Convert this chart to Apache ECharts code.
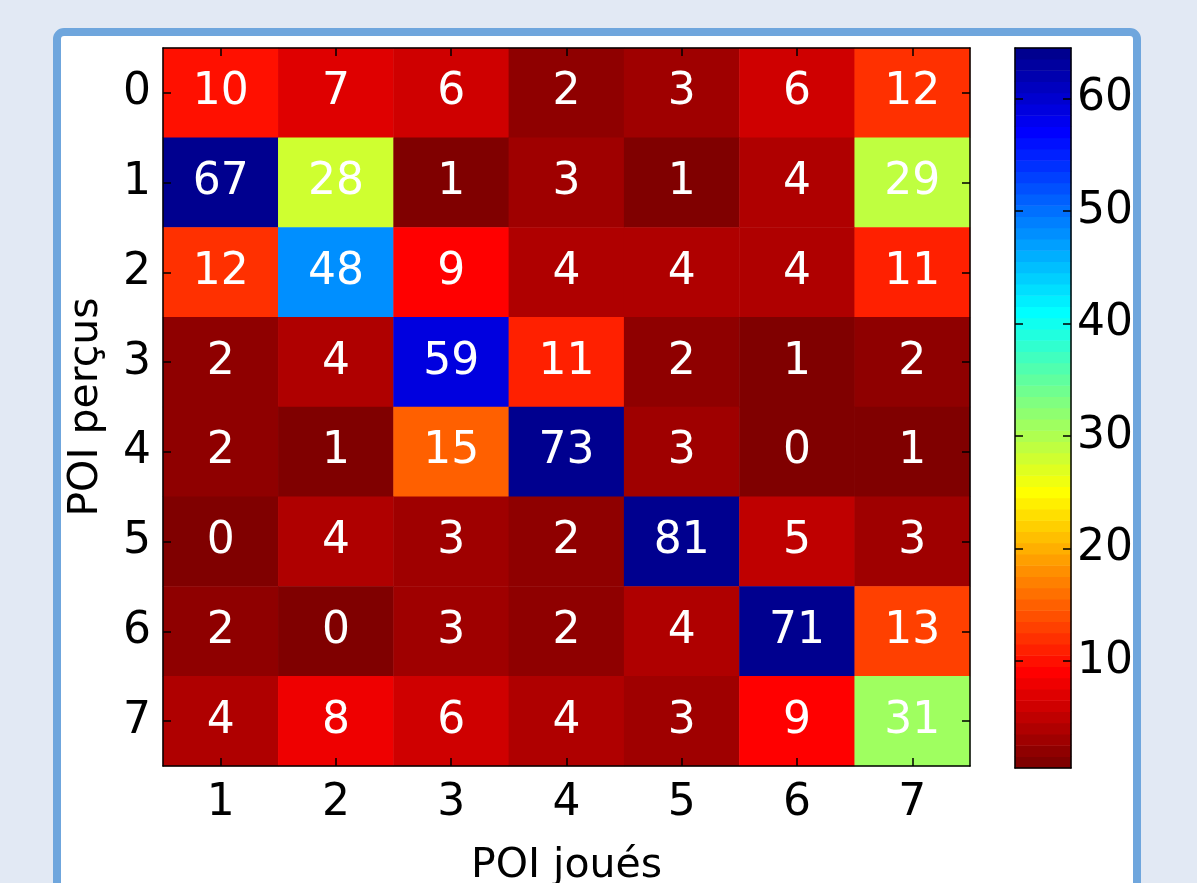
<!DOCTYPE html>
<html>
<head>
<meta charset="utf-8">
<script src="https://cdn.jsdelivr.net/npm/echarts@6/dist/echarts.min.js"></script>
<style>
html,body{margin:0;padding:0;background:#e2e9f4;}
#c{width:1197px;height:883px;}
</style>
</head>
<body>
<div id="c"></div>
<script>
// ---- data ----
const xCategories = ['1','2','3','4','5','6','7'];          // POI joués
const yCategories = ['0','1','2','3','4','5','6','7'];      // POI perçus
const row0 = [10, 7, 6, 2, 3, 6, 12];
const row1 = [67, 28, 1, 3, 1, 4, 29];
const row2 = [12, 48, 9, 4, 4, 4, 11];
const row3 = [2, 4, 59, 11, 2, 1, 2];
const row4 = [2, 1, 15, 73, 3, 0, 1];
const row5 = [0, 4, 3, 2, 81, 5, 3];
const row6 = [2, 0, 3, 2, 4, 71, 13];
const row7 = [4, 8, 6, 4, 3, 9, 31];
const rows = [row0, row1, row2, row3, row4, row5, row6, row7];
const colorbarTicks = [10, 20, 30, 40, 50, 60];
const colorLevels = 64;

// ---- MATLAB jet(64), flipped ----
function jet(m) {
  const n = Math.ceil(m / 4);
  const u = [];
  for (let i = 1; i <= n; i++) u.push(i / n);
  for (let i = 1; i < n; i++) u.push(1);
  for (let i = n; i >= 1; i--) u.push(i / n);
  const g0 = Math.ceil(n / 2) - (m % 4 === 1 ? 1 : 0);
  const J = [];
  for (let i = 0; i < m; i++) J.push([0, 0, 0]);
  for (let k = 0; k < u.length; k++) {
    const g = g0 + k + 1, r = g + n, b = g - n;
    if (r >= 1 && r <= m) J[r - 1][0] = u[k];
    if (g >= 1 && g <= m) J[g - 1][1] = u[k];
    if (b >= 1 && b <= m) J[b - 1][2] = u[k];
  }
  return J.map(c => 'rgb(' + c.map(v => Math.round(v * 255)).join(',') + ')');
}
const cmap = jet(colorLevels).reverse(); // index 0 -> level 1 (dark red)

const pieces = [];
for (let k = 1; k <= colorLevels; k++) {
  const p = { color: cmap[k - 1] };
  if (k > 1) p.gte = k - 0.5;
  if (k < colorLevels) p.lt = k + 0.5;
  pieces.push(p);
}

const heatData = [];
rows.forEach((r, yi) => r.forEach((v, xi) => heatData.push([xi, yi, v])));

const levelCats = [];
const barData = [];
for (let k = 1; k <= colorLevels; k++) { levelCats.push(String(k)); barData.push([0, k - 1, k]); }

const FONT = 'DejaVu Sans';
const axisLineStyle = { color: '#000', width: 1.5 };
const tickStyle = { show: true, inside: true, length: 8, alignWithLabel: true, lineStyle: { color: '#000', width: 1.5 } };
const cbTick = { show: true, inside: true, length: 8, alignWithLabel: true,
  interval: (i, v) => colorbarTicks.indexOf(Number(v)) >= 0,
  lineStyle: { color: '#000', width: 1.5 } };

const chart = echarts.init(document.getElementById('c'), null, { renderer: 'canvas' });
chart.setOption({
  backgroundColor: '#e2e9f4',
  animation: false,
  textStyle: { fontFamily: FONT },
  graphic: [{
    type: 'rect', z: -10, silent: true,
    shape: { x: 57, y: 32, width: 1080, height: 920, r: 7 },
    style: { fill: '#ffffff', stroke: '#6fa6dd', lineWidth: 8 }
  }],
  grid: [
    { left: 163, top: 48, width: 807, height: 718, containLabel: false, outerBoundsMode: 'none' },
    { left: 1015, top: 48, width: 56, height: 720, containLabel: false, outerBoundsMode: 'none' }
  ],
  xAxis: [
    { gridIndex: 0, type: 'category', data: xCategories, position: 'bottom', z: 10,
      name: 'POI joués', nameLocation: 'middle', nameGap: 80,
      nameTextStyle: { fontFamily: FONT, fontSize: 41, color: '#000' },
      axisLine: { show: true, lineStyle: axisLineStyle }, axisTick: tickStyle,
      axisLabel: { fontFamily: FONT, fontSize: 44, color: '#000', margin: 16 },
      splitLine: { show: false }, splitArea: { show: false } },
    { gridIndex: 0, type: 'category', data: xCategories, position: 'top', z: 10,
      axisLine: { show: true, lineStyle: axisLineStyle }, axisTick: tickStyle,
      axisLabel: { show: false } },
    { gridIndex: 1, type: 'category', data: ['c'], position: 'bottom', z: 10,
      axisLine: { show: true, lineStyle: axisLineStyle }, axisTick: { show: false }, axisLabel: { show: false } },
    { gridIndex: 1, type: 'category', data: ['c'], position: 'top', z: 10,
      axisLine: { show: true, lineStyle: axisLineStyle }, axisTick: { show: false }, axisLabel: { show: false } }
  ],
  yAxis: [
    { gridIndex: 0, type: 'category', data: yCategories, inverse: true, position: 'left', z: 10,
      name: 'POI perçus', nameLocation: 'middle', nameGap: 56, nameRotate: 90,
      nameTextStyle: { fontFamily: FONT, fontSize: 41, color: '#000' },
      axisLine: { show: true, lineStyle: axisLineStyle }, axisTick: tickStyle,
      axisLabel: { fontFamily: FONT, fontSize: 44, color: '#000', margin: 12 },
      splitLine: { show: false }, splitArea: { show: false } },
    { gridIndex: 0, type: 'category', data: yCategories, inverse: true, position: 'right', z: 10,
      axisLine: { show: true, lineStyle: axisLineStyle }, axisTick: tickStyle, axisLabel: { show: false } },
    { gridIndex: 1, type: 'category', data: levelCats, position: 'right', z: 10,
      axisLine: { show: true, lineStyle: axisLineStyle }, axisTick: cbTick,
      axisLabel: { interval: 0, fontFamily: FONT, fontSize: 44, color: '#000', margin: 6,
        formatter: v => colorbarTicks.indexOf(Number(v)) >= 0 ? v : '' } },
    { gridIndex: 1, type: 'category', data: levelCats, position: 'left', z: 10,
      axisLine: { show: true, lineStyle: axisLineStyle }, axisTick: cbTick,
      axisLabel: { show: false } }
  ],
  visualMap: {
    type: 'piecewise', show: false, dimension: 2, seriesIndex: [0, 1], pieces: pieces
  },
  series: [
    { type: 'heatmap', xAxisIndex: 0, yAxisIndex: 0, data: heatData, z: 2,
      label: { show: true, color: '#fff', fontFamily: FONT, fontSize: 44,
        formatter: p => String(p.value[2]) },
      itemStyle: { borderWidth: 0 } },
    { type: 'heatmap', xAxisIndex: 2, yAxisIndex: 2, data: barData, z: 2,
      label: { show: false }, itemStyle: { borderWidth: 0 } }
  ]
});
</script>
</body>
</html>
